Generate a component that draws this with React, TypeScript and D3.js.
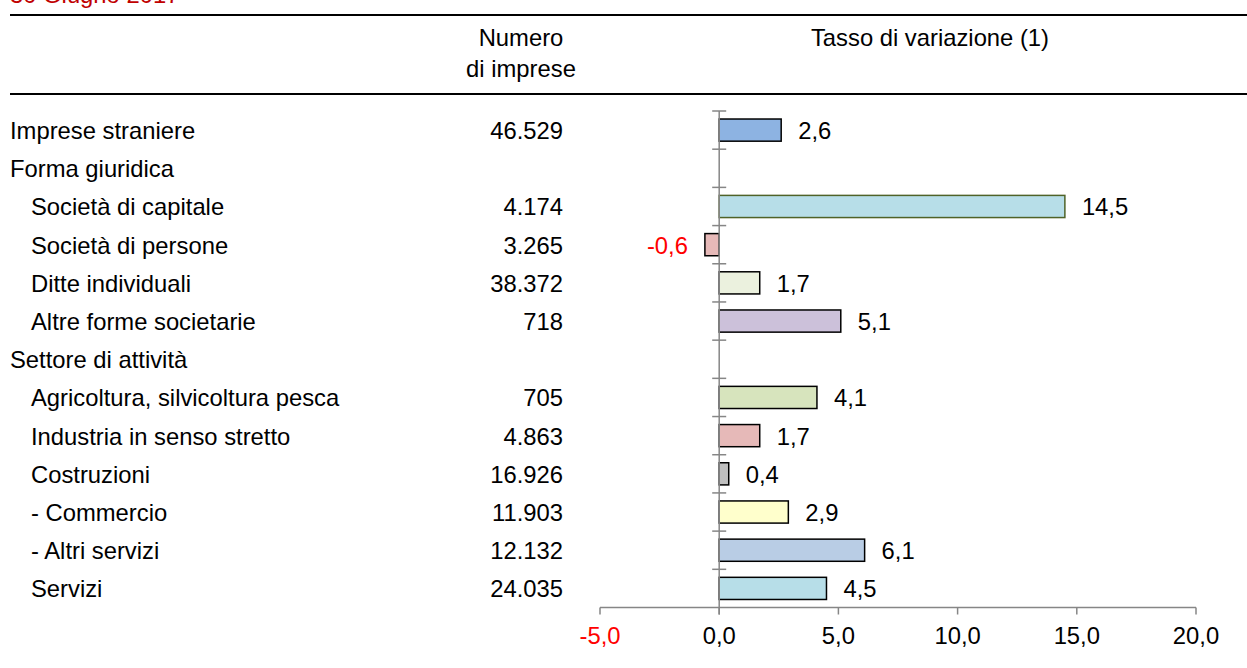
import * as d3 from "d3";

const WIDTH = 1247;
const HEIGHT = 668;

// rows of the table, in order (empty rate = section heading)
const categories = [
  "Imprese straniere",
  "Forma giuridica",
  "Società di capitale",
  "Società di persone",
  "Ditte individuali",
  "Altre forme societarie",
  "Settore di attività",
  "Agricoltura, silvicoltura pesca",
  "Industria in senso stretto",
  "Costruzioni",
  "- Commercio",
  "- Altri servizi",
  "Servizi",
];
const levels = [0, 0, 1, 1, 1, 1, 0, 1, 1, 1, 1, 1, 1];
const counts = [46529, null, 4174, 3265, 38372, 718, null, 705, 4863, 16926, 11903, 12132, 24035];
const rates = [2.6, null, 14.5, -0.6, 1.7, 5.1, null, 4.1, 1.7, 0.4, 2.9, 6.1, 4.5];
const xTicks = [-5, 0, 5, 10, 15, 20];

const FILLS = [
  "#8db3e2", null, "#b7dee8", "#e6b9b8", "#ebf1de", "#ccc1da", null,
  "#d7e4bd", "#e6b9b8", "#bfbfbf", "#ffffcc", "#b9cde5", "#b7dee8",
];
const STROKES = [
  "#000", null, "#4f6228", "#000", "#000", "#000", null,
  "#000", "#000", "#000", "#000", "#000", "#000",
];

const FONT = "'Liberation Sans', Arial, sans-serif";
const FS = 23.8;
const AXIS = "#868686";

const it = d3.formatLocale({
  decimal: ",",
  thousands: ".",
  grouping: [3],
  currency: ["€", ""],
  minus: "-",
});
const fmtCount = it.format(",d");
const fmtRate = it.format(".1f");

const App = () => {
  const y = d3
    .scaleBand<string>()
    .domain(categories)
    .range([111, 607.5])
    .padding(0);
  const x = d3.scaleLinear().domain([-5, 20]).range([600, 1196]);

  const step = y.step();
  const barH = step * 0.58;
  const axisY = y.range()[1];
  const x0 = x(0);

  return (
    <>
      <style>{`body{margin:0}`}</style>
      <svg width={WIDTH} height={HEIGHT} style={{ display: "block", background: "#fff" }} fontFamily={FONT} fontSize={FS}>
        {/* title, cut off at the top as in the source */}
        <text x={10} y={3} fill="#c00000">30 Giugno 2017</text>

        {/* table header */}
        <line x1={10} x2={WIDTH} y1={15} y2={15} stroke="#000" strokeWidth={2} />
        <line x1={10} x2={WIDTH} y1={94} y2={94} stroke="#000" strokeWidth={2} />
        <text x={521} y={46} textAnchor="middle">Numero</text>
        <text x={521} y={77} textAnchor="middle">di imprese</text>
        <text x={930} y={46} textAnchor="middle">Tasso di variazione (1)</text>

        {/* row labels and counts */}
        {categories.map((c, i) => {
          const cy = (y(c) ?? 0) + step / 2;
          return (
            <g key={c}>
              <text x={levels[i] ? 31 : 10} y={cy + 9}>{c}</text>
              {counts[i] != null && (
                <text x={563} y={cy + 9} textAnchor="end">{fmtCount(counts[i] as number)}</text>
              )}
            </g>
          );
        })}

        {/* bars */}
        {categories.map((c, i) => {
          const v = rates[i];
          if (v == null) return null;
          const cy = (y(c) ?? 0) + step / 2;
          const xs = x(Math.min(0, v));
          const w = Math.abs(x(v) - x0);
          return (
            <g key={"b" + c}>
              <rect
                x={xs}
                y={cy - barH / 2}
                width={w}
                height={barH}
                fill={FILLS[i] as string}
                stroke={STROKES[i] as string}
                strokeWidth={1.5}
              />
              <text
                x={v < 0 ? xs - 17 : x(v) + 17}
                y={cy + 9}
                textAnchor={v < 0 ? "end" : "start"}
                fill={v < 0 ? "#ff0000" : "#000"}
              >
                {fmtRate(v)}
              </text>
            </g>
          );
        })}

        {/* category axis */}
        <line x1={x0} x2={x0} y1={111} y2={axisY + 7} stroke={AXIS} strokeWidth={1.5} />
        {categories.map((c) => (
          <line key={"t" + c} x1={x0 - 7} x2={x0 + 7} y1={y(c)} y2={y(c)} stroke={AXIS} strokeWidth={1.5} />
        ))}

        {/* value axis */}
        <line x1={x(-5)} x2={x(20)} y1={axisY} y2={axisY} stroke={AXIS} strokeWidth={1.5} />
        {xTicks.map((t) => (
          <g key={"x" + t}>
            <line x1={x(t)} x2={x(t)} y1={axisY} y2={axisY + 7} stroke={AXIS} strokeWidth={1.5} />
            <text x={x(t)} y={644} textAnchor="middle" fill={t < 0 ? "#ff0000" : "#000"}>
              {fmtRate(t)}
            </text>
          </g>
        ))}
      </svg>
    </>
  );
};

export default App;
